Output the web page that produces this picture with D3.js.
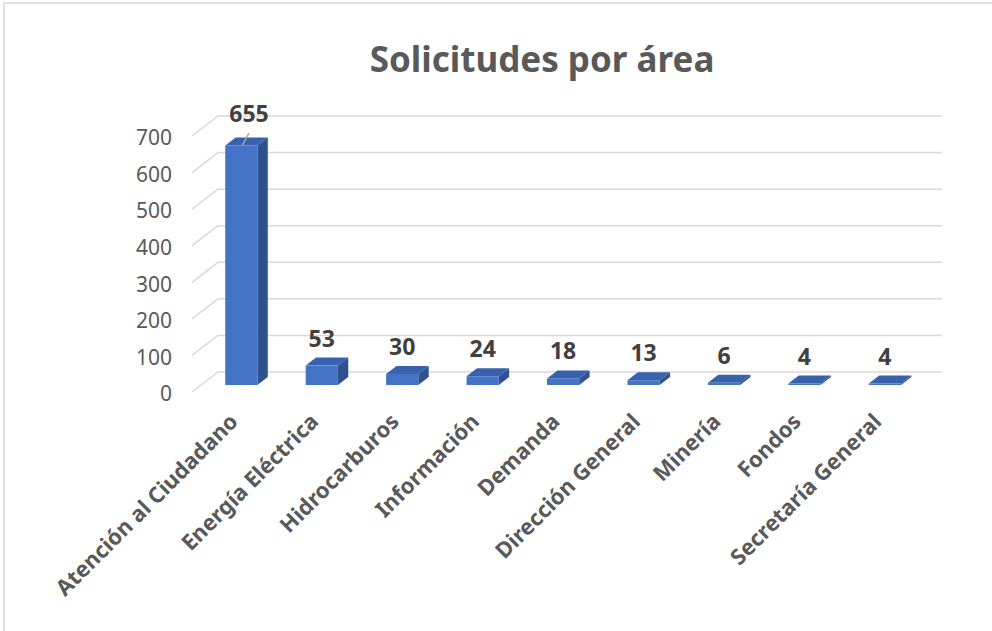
<!DOCTYPE html>
<html>
<head>
<meta charset="utf-8">
<script src="https://cdn.jsdelivr.net/npm/d3@7"></script>
<style>
    body { margin: 0; background: #fff; }
    svg { display: block; font-family: "Noto Sans", "Open Sans", sans-serif; }
    .grid line { stroke: #d9d9d9; stroke-width: 1.5; }
    .tick-label { fill: #595959; font-size: 21px; }
    .cat-label { fill: #595959; font-size: 22px; font-weight: bold; }
    .value-label { fill: #404040; font-size: 23px; font-weight: bold; }
</style>
</head>
<body>
<div id="chart"></div>
<script>
const width = 992;
const height = 631;

// DATA
const categories = [
    "Atención al Ciudadano",
    "Energía Eléctrica",
    "Hidrocarburos",
    "Información",
    "Demanda",
    "Dirección General",
    "Minería",
    "Fondos",
    "Secretaría General"
];
const values = [655, 53, 30, 24, 18, 13, 6, 4, 4];
const yTicks = [0, 100, 200, 300, 400, 500, 600, 700];

const data = categories.map((c, i) => ({ cat: c, value: values[i] }));

// depth of the floor (oblique projection)
const DX = 26;
const DY = -20;
const barFront = 0.35;
const barBack = 0.75;

const svg = d3.select("#chart")
    .append("svg")
    .attr("width", width)
    .attr("height", height);

// outer border
svg.append("rect")
    .attr("x", 4)
    .attr("y", 3)
    .attr("width", 1000)
    .attr("height", 700)
    .attr("fill", "none")
    .attr("stroke", "#d9d9d9")
    .attr("stroke-width", 1.5);

// TITLE
svg.append("text")
    .attr("x", 542)
    .attr("y", 72)
    .attr("text-anchor", "middle")
    .style("font-size", "35px")
    .style("font-weight", "bold")
    .style("fill", "#595959")
    .text("Solicitudes por área");

const x = d3.scaleBand()
    .domain(categories)
    .range([192, 916])
    .paddingInner(0.6)
    .paddingOuter(0.3);

const y = d3.scaleLinear()
    .domain([0, 700])
    .range([392, 136]);

// GRID (back wall + left wall diagonals)
const grid = svg.append("g").attr("class", "grid");

grid.selectAll(".back")
    .data(yTicks)
    .enter()
    .append("line")
    .attr("x1", 192 + DX)
    .attr("x2", 916 + DX)
    .attr("y1", d => y(d) + DY)
    .attr("y2", d => y(d) + DY);

grid.selectAll(".side")
    .data(yTicks)
    .enter()
    .append("line")
    .attr("x1", 192)
    .attr("x2", 192 + DX)
    .attr("y1", d => y(d))
    .attr("y2", d => y(d) + DY);

// Y LABELS
svg.selectAll(".tick-label")
    .data(yTicks)
    .enter()
    .append("text")
    .attr("class", "tick-label")
    .attr("x", 172)
    .attr("y", d => y(d) + 2)
    .attr("dy", "0.35em")
    .attr("text-anchor", "end")
    .text(d => d);

// BARS
const bars = svg.selectAll(".bar")
    .data(data)
    .enter()
    .append("g")
    .attr("class", "bar");

const x0 = d => x(d.cat) + DX * barFront;
const x1 = d => x(d.cat) + x.bandwidth() + DX * barFront;
const yb = y(0) + DY * barFront;
const yt = d => y(d.value) + DY * barFront;
const ox = DX * (barBack - barFront);
const oy = DY * (barBack - barFront);

// side face
bars.append("path")
    .attr("fill", "#2f528f")
    .attr("d", d => `M${x1(d)},${yt(d)}L${x1(d) + ox},${yt(d) + oy}L${x1(d) + ox},${yb + oy}L${x1(d)},${yb}Z`);

// top face
bars.append("path")
    .attr("fill", "#3862ad")
    .attr("d", d => `M${x0(d)},${yt(d)}L${x0(d) + ox},${yt(d) + oy}L${x1(d) + ox},${yt(d) + oy}L${x1(d)},${yt(d)}Z`);

// front face
bars.append("rect")
    .attr("fill", "#4472c4")
    .attr("x", d => x0(d))
    .attr("y", d => yt(d))
    .attr("width", x.bandwidth())
    .attr("height", d => yb - yt(d));

// VALUE LABELS
const labelPos = (d, i) => i === 0
    ? { x: 249, y: 122 }
    : { x: (x0(d) + x1(d)) / 2, y: yt(d) + oy - 11 };

svg.selectAll(".value-label")
    .data(data)
    .enter()
    .append("text")
    .attr("class", "value-label")
    .attr("text-anchor", "middle")
    .attr("x", (d, i) => labelPos(d, i).x)
    .attr("y", (d, i) => labelPos(d, i).y)
    .text(d => d.value);

// leader line for the moved first label
svg.append("line")
    .attr("x1", 249)
    .attr("y1", 133)
    .attr("x2", (x0(data[0]) + x1(data[0])) / 2 + 1)
    .attr("y2", yt(data[0]))
    .attr("stroke", "#a6a6a6")
    .attr("stroke-width", 1.5);

// X LABELS
svg.selectAll(".cat-label")
    .data(data)
    .enter()
    .append("text")
    .attr("class", "cat-label")
    .attr("text-anchor", "end")
    .attr("transform", d => `translate(${(x0(d) + x1(d)) / 2 - 2},${423}) rotate(-45)`)
    .text(d => d.cat);
</script>
</body>
</html>
